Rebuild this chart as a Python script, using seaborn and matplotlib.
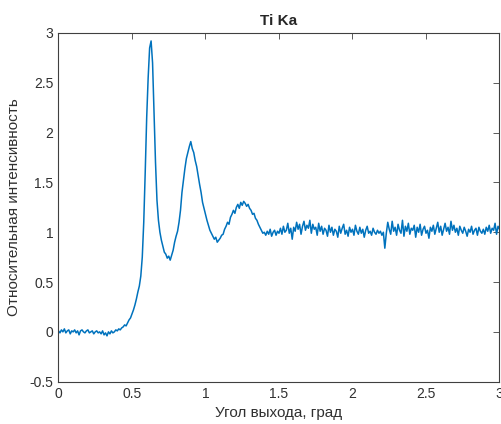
import matplotlib
matplotlib.use("Agg")
import matplotlib.pyplot as plt
import seaborn as sns
import numpy as np
import pandas as pd

# angle grid (deg) and relative intensity
angle_start, angle_stop, angle_step = 0.0, 3.0, 0.01

intensity = [
    # 0.00 - 0.49  baseline
    0.01, -0.01, 0.02, 0.00, 0.03, -0.01, 0.01, 0.02, -0.02, 0.01,
    0.00, 0.02, -0.01, 0.01, -0.03, 0.01, 0.02, 0.00, -0.01, 0.01,
    0.02, -0.01, 0.00, 0.01, -0.02, 0.00, 0.01, -0.01, 0.00, -0.02,
    0.01, -0.03, -0.01, -0.04, 0.00, -0.02, 0.01, -0.01, 0.00, 0.02,
    0.01, 0.03, 0.02, 0.04, 0.05, 0.07, 0.06, 0.09, 0.12, 0.14,
    # 0.50 - 0.99  main peak and second peak
    0.18, 0.22, 0.27, 0.33, 0.40, 0.46, 0.56, 0.75, 1.10, 1.60,
    2.15, 2.55, 2.85, 2.92, 2.70, 2.20, 1.70, 1.32, 1.12, 1.00,
    0.92, 0.86, 0.80, 0.78, 0.74, 0.76, 0.72, 0.77, 0.82, 0.90,
    0.96, 1.01, 1.10, 1.22, 1.40, 1.52, 1.64, 1.74, 1.80, 1.86,
    1.91, 1.84, 1.80, 1.72, 1.66, 1.57, 1.48, 1.40, 1.30, 1.24,
    # 1.00 - 1.39  third peak
    1.18, 1.12, 1.07, 1.02, 0.99, 0.96, 0.93, 0.95, 0.90, 0.92,
    0.94, 0.97, 0.98, 1.03, 1.06, 1.10, 1.08, 1.15, 1.18, 1.22,
    1.19, 1.25, 1.28, 1.24, 1.30, 1.27, 1.31, 1.29, 1.26, 1.28,
    1.24, 1.22, 1.18, 1.19, 1.14, 1.12, 1.08, 1.05, 1.02, 0.99,
    # 1.40 - 3.00  plateau
    1.00, 0.97, 1.01, 0.98, 1.03, 0.96, 1.00, 1.02, 0.97, 1.01,
    0.99, 1.04, 0.98, 1.06, 1.00, 1.02, 1.09, 0.99, 1.04, 0.93,
    1.05, 1.01, 1.10, 1.03, 1.08, 0.98, 1.06, 1.11, 1.02, 1.07,
    1.04, 1.12, 0.99, 1.08, 1.03, 1.05, 0.97, 1.09, 1.01, 1.06,
    0.98, 1.04, 1.02, 0.96, 1.07, 1.00, 1.05, 0.97, 1.03, 1.01,
    0.95, 1.06, 0.99, 1.04, 1.08, 0.98, 1.02, 0.96, 1.05, 1.00,
    1.03, 0.97, 1.07, 1.01, 0.98, 1.05, 0.99, 1.03, 0.95, 1.02,
    1.06, 0.99, 1.01, 0.97, 1.04, 1.00, 0.98, 1.02, 0.99, 1.01,
    0.97, 1.00, 0.84, 0.99, 1.10, 1.03, 0.98, 1.11, 1.01, 1.05,
    0.97, 1.08, 1.02, 0.99, 1.12, 0.96, 1.06, 1.01, 1.09, 0.98,
    1.04, 1.02, 1.07, 0.95, 1.05, 1.00, 1.08, 0.97, 1.03, 1.06,
    0.99, 1.02, 0.94, 1.05, 1.01, 1.07, 0.98, 1.04, 1.10, 1.00,
    1.06, 0.97, 1.03, 1.09, 1.01, 1.05, 0.98, 1.11, 1.02, 1.07,
    1.00, 1.04, 0.97, 1.06, 1.02, 0.99, 1.05, 1.01, 0.96, 1.03,
    1.00, 1.06, 0.98, 1.02, 1.04, 0.97, 1.05, 1.01, 0.99, 1.03,
    0.98, 1.05, 1.01, 1.07, 0.99, 1.04, 1.02, 1.09, 0.98, 1.06,
    1.03,
]

x_ticks = [0, 0.5, 1, 1.5, 2, 2.5, 3]
x_ticklabels = ["0", "0.5", "1", "1.5", "2", "2.5", "3"]
y_ticks = [-0.5, 0, 0.5, 1, 1.5, 2, 2.5, 3]
y_ticklabels = ["-0.5", "0", "0.5", "1", "1.5", "2", "2.5", "3"]

angle = np.round(np.arange(len(intensity)) * angle_step + angle_start, 2)
df = pd.DataFrame({"angle": angle, "intensity": intensity})

sns.set_style("white")
plt.rcParams["font.family"] = ["Liberation Sans", "DejaVu Sans"]

fig = plt.figure(figsize=(5.02, 4.24), dpi=100)
ax = fig.add_axes([0.1165, 0.0998, 0.8785, 0.8224])

sns.lineplot(data=df, x="angle", y="intensity", color="#0072BD", linewidth=1.1, ax=ax)

ax.set_xlim(angle_start, angle_stop)
ax.set_ylim(-0.5, 3)
ax.set_xticks(x_ticks)
ax.set_xticklabels(x_ticklabels)
ax.set_yticks(y_ticks)
ax.set_yticklabels(y_ticklabels)
ax.tick_params(direction="in", top=True, right=True, length=4, width=0.6,
               colors="#404040", labelsize=10, labelcolor="#303030")
for s in ax.spines.values():
    s.set_color("#404040")
    s.set_linewidth(0.8)

ax.set_title("Ti Ka", fontsize=11, fontweight="bold", color="#262626", pad=6)
ax.set_xlabel("Угол выхода, град", fontsize=11, color="#303030")
ax.set_ylabel("Относительная интенсивность", fontsize=11, color="#303030", labelpad=6)

plt.savefig("out.png", dpi=100)
